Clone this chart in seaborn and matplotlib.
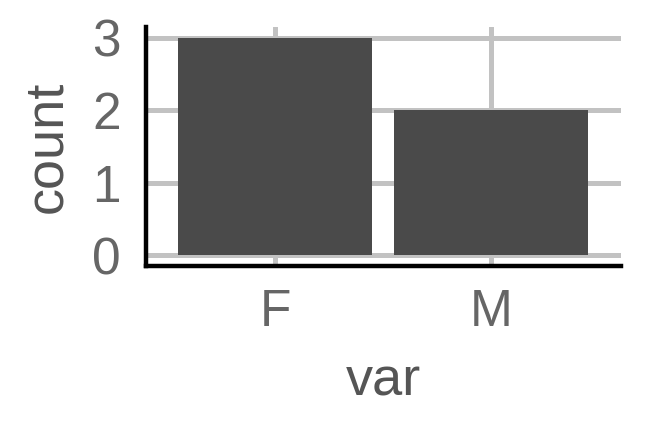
import pandas as pd
import matplotlib.pyplot as plt
import seaborn as sns

categories = ["F", "M"]
counts = [3, 2]
yticks = [0, 1, 2, 3]

df = pd.DataFrame({"var": categories, "count": counts})

sns.set_style("white")
plt.rcParams['font.family'] = ['Liberation Sans', 'DejaVu Sans']

fig, ax = plt.subplots(figsize=(6.48, 4.32), dpi=100)
fig.subplots_adjust(left=0.225, right=0.958, top=0.9375, bottom=0.384)

sns.barplot(data=df, x="var", y="count", color="#4a4a4a", saturation=1,
            width=0.9, linewidth=0, ax=ax, zorder=3)

ax.set_xlim(-0.6, 1.6)
ax.set_ylim(-0.15, 3.15)
ax.set_yticks(yticks)

# grid like ggplot minimal
ax.grid(True, color="#c2c2c2", linewidth=3.6, zorder=0)
ax.set_axisbelow(True)

for s in ["top", "right"]:
    ax.spines[s].set_visible(False)
for s in ["left", "bottom"]:
    ax.spines[s].set_color("black")
    ax.spines[s].set_linewidth(3.2)

ax.tick_params(axis="both", length=0, labelsize=37, labelcolor="#666666")
ax.tick_params(axis="x", pad=16)
ax.tick_params(axis="y", pad=18)
ax.set_xlabel("var", fontsize=39, color="#555555", labelpad=14)
ax.set_ylabel("count", fontsize=39, color="#555555", labelpad=14)

fig.savefig("out.png", dpi=100)
